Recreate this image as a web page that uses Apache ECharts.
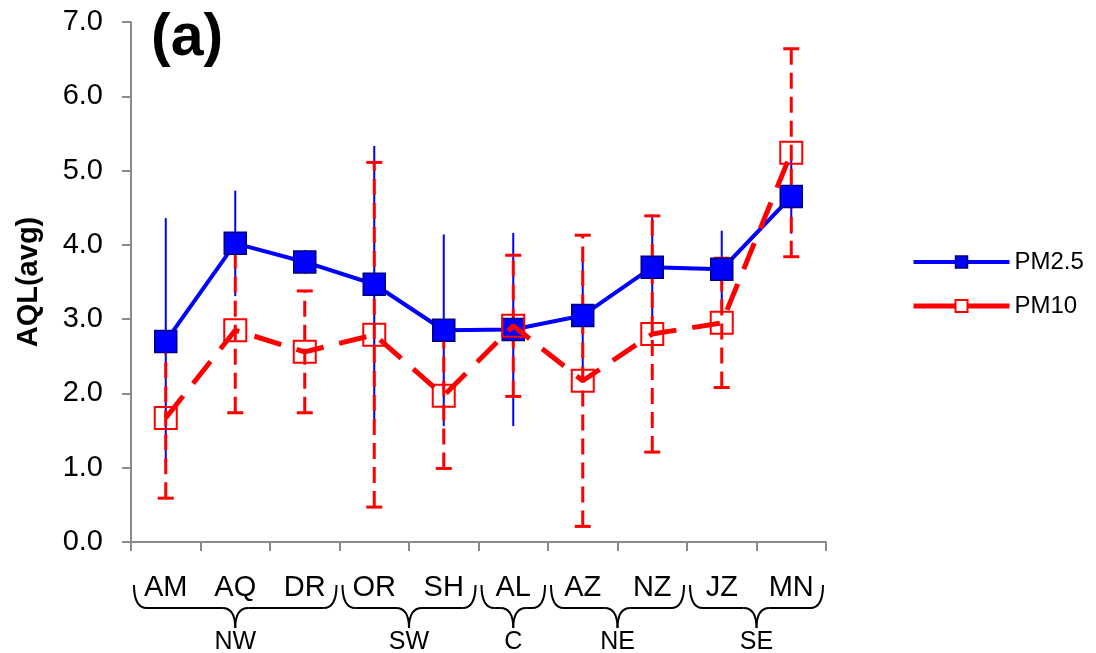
<!DOCTYPE html>
<html>
<head>
<meta charset="utf-8">
<script src="https://cdn.jsdelivr.net/npm/echarts@6/dist/echarts.min.js"></script>
<style>
html,body{margin:0;padding:0;background:#fff;}
#chart{width:1096px;height:653px;}
</style>
</head>
<body>
<div id="chart"></div>
<script>
// ---- data ----
const categories = ['AM', 'AQ', 'DR', 'OR', 'SH', 'AL', 'AZ', 'NZ', 'JZ', 'MN'];
const pm25 = [2.70, 4.02, 3.77, 3.47, 2.85, 2.86, 3.05, 3.70, 3.67, 4.65];
const pm25Err = [1.66, 0.71, 0.16, 1.86, 1.29, 1.30, 0.87, 0.71, 0.52, 0.50];
const pm10 = [1.67, 2.85, 2.56, 2.79, 1.97, 2.91, 2.17, 2.80, 2.95, 5.24];
const pm10Err = [1.08, 1.11, 0.82, 2.32, 0.98, 0.95, 1.96, 1.59, 0.87, 1.40];
const groupNames = ['NW', 'SW', 'C', 'NE', 'SE'];
const groupStart = [0, 3, 5, 6, 8];
const groupEnd = [2, 4, 5, 7, 9];
const yTicks = [0, 1, 2, 3, 4, 5, 6, 7];

// ---- styles ----
const FONT = '"Liberation Sans", Arial, Helvetica, sans-serif';
const BLUE = '#0000FF';
const RED = '#FF0000';
const AXIS = '#8A8A8A';

const chart = echarts.init(document.getElementById('chart'), null, {renderer: 'canvas'});

function errData(mean, err) {
  return mean.map((m, i) => [i, m - err[i], m + err[i]]);
}

function makeErrRender(color, width, dash, cap) {
  return function (params, api) {
    const i = api.value(0);
    const lo = api.coord([i, api.value(1)]);
    const hi = api.coord([i, api.value(2)]);
    const x = lo[0];
    const children = [{
      type: 'line',
      shape: {x1: x, y1: lo[1], x2: x, y2: hi[1]},
      style: {stroke: color, lineWidth: width, lineDash: dash}
    }];
    if (cap) {
      [lo[1], hi[1]].forEach(y => children.push({
        type: 'line',
        shape: {x1: x - 8, y1: y, x2: x + 8, y2: y},
        style: {stroke: color, lineWidth: width}
      }));
    }
    return {type: 'group', children: children};
  };
}

function renderBrace(params, api) {
  const s = api.value(0), e = api.value(1);
  const bw = api.size([1, 0])[0];
  const p0 = api.coord([s, 0]);
  const p1 = api.coord([e, 0]);
  const x1 = p0[0] - bw / 2 + 3, x2 = p1[0] + bw / 2 - 3;
  const y0 = p0[1];
  const ty = y0 + 43, by = y0 + 66, cy = y0 + 86;
  const xm = (x1 + x2) / 2;
  const r = 13;
  const st = {stroke: '#000', lineWidth: 2, fill: null};
  return {
    type: 'group',
    children: [
      {type: 'bezierCurve', shape: {x1: x1, y1: ty, cpx1: x1, cpy1: by, x2: x1 + r, y2: by}, style: st},
      {type: 'line', shape: {x1: x1 + r, y1: by, x2: xm - r, y2: by}, style: st},
      {type: 'bezierCurve', shape: {x1: xm - r, y1: by, cpx1: xm, cpy1: by, x2: xm, y2: cy}, style: st},
      {type: 'bezierCurve', shape: {x1: xm, y1: cy, cpx1: xm, cpy1: by, x2: xm + r, y2: by}, style: st},
      {type: 'line', shape: {x1: xm + r, y1: by, x2: x2 - r, y2: by}, style: st},
      {type: 'bezierCurve', shape: {x1: x2 - r, y1: by, cpx1: x2, cpy1: by, x2: x2, y2: ty}, style: st},
      {type: 'text', style: {x: xm, y: cy + 14, text: groupNames[params.dataIndex], fill: '#000',
        font: '25px ' + FONT, align: 'center', verticalAlign: 'middle'}}
    ]
  };
}

const option = {
  animation: false,
  backgroundColor: '#fff',
  grid: {left: 131, top: 22, width: 695, height: 520, containLabel: false},
  graphic: [{
    type: 'text', left: 151, top: 9,
    style: {text: '(a)', font: 'bold 59px ' + FONT, fill: '#000'}
  }],
  legend: {
    orient: 'vertical', left: 906, top: 245,
    itemWidth: 96, itemHeight: 15, itemGap: 20,
    textStyle: {fontSize: 24, fontFamily: FONT, color: '#000'},
    data: [
      {name: 'PM2.5', itemStyle: {color: BLUE, borderColor: '#000080', borderWidth: 1.5},
        lineStyle: {width: 4, color: BLUE}},
      {name: 'PM10', itemStyle: {color: '#fff', borderColor: RED, borderWidth: 2},
        lineStyle: {type: 'solid', width: 5, color: RED}}
    ]
  },
  xAxis: {
    type: 'category', data: categories, boundaryGap: true,
    axisLine: {lineStyle: {color: AXIS, width: 2}},
    axisTick: {show: true, length: 9, inside: false, lineStyle: {color: AXIS, width: 2}},
    axisLabel: {fontSize: 29, fontFamily: FONT, color: '#000', margin: 31, interval: 0},
    splitLine: {show: false}
  },
  yAxis: {
    type: 'value', min: 0, max: 7, interval: 1,
    name: 'AQL(avg)', nameLocation: 'middle', nameGap: 88,
    nameTextStyle: {fontSize: 29, fontWeight: 'bold', fontFamily: FONT, color: '#000'},
    axisLine: {show: true, lineStyle: {color: AXIS, width: 2}},
    axisTick: {show: true, length: 9, lineStyle: {color: AXIS, width: 2}},
    axisLabel: {fontSize: 29, fontFamily: FONT, color: '#000', margin: 28,
      formatter: v => (yTicks.indexOf(v) >= 0 ? v.toFixed(1) : '')},
    splitLine: {show: false}
  },
  series: [
    {
      name: 'PM2.5 err', type: 'custom', z: 1, clip: false,
      renderItem: makeErrRender(BLUE, 2, null, false),
      encode: {x: 0, y: [1, 2]},
      data: errData(pm25, pm25Err), silent: true
    },
    {
      name: 'PM10 err', type: 'custom', z: 2, clip: false,
      renderItem: makeErrRender(RED, 3, [16, 8], true),
      encode: {x: 0, y: [1, 2]},
      data: errData(pm10, pm10Err), silent: true
    },
    {
      name: 'PM2.5', type: 'line', z: 3, data: pm25,
      symbol: 'rect', symbolSize: 22,
      lineStyle: {color: BLUE, width: 4},
      itemStyle: {color: BLUE, borderColor: '#000080', borderWidth: 1.5}
    },
    {
      name: 'PM10', type: 'line', z: 4, data: pm10,
      symbol: 'rect', symbolSize: 22,
      lineStyle: {color: RED, width: 5, type: [28, 16]},
      itemStyle: {color: 'rgba(255,255,255,0)', borderColor: RED, borderWidth: 2}
    },
    {
      name: 'groups', type: 'custom', z: 5, clip: false, silent: true,
      renderItem: renderBrace,
      encode: {x: [0, 1], y: 2},
      data: groupStart.map((s, i) => [s, groupEnd[i], 0])
    }
  ]
};
chart.setOption(option);
</script>
</body>
</html>
